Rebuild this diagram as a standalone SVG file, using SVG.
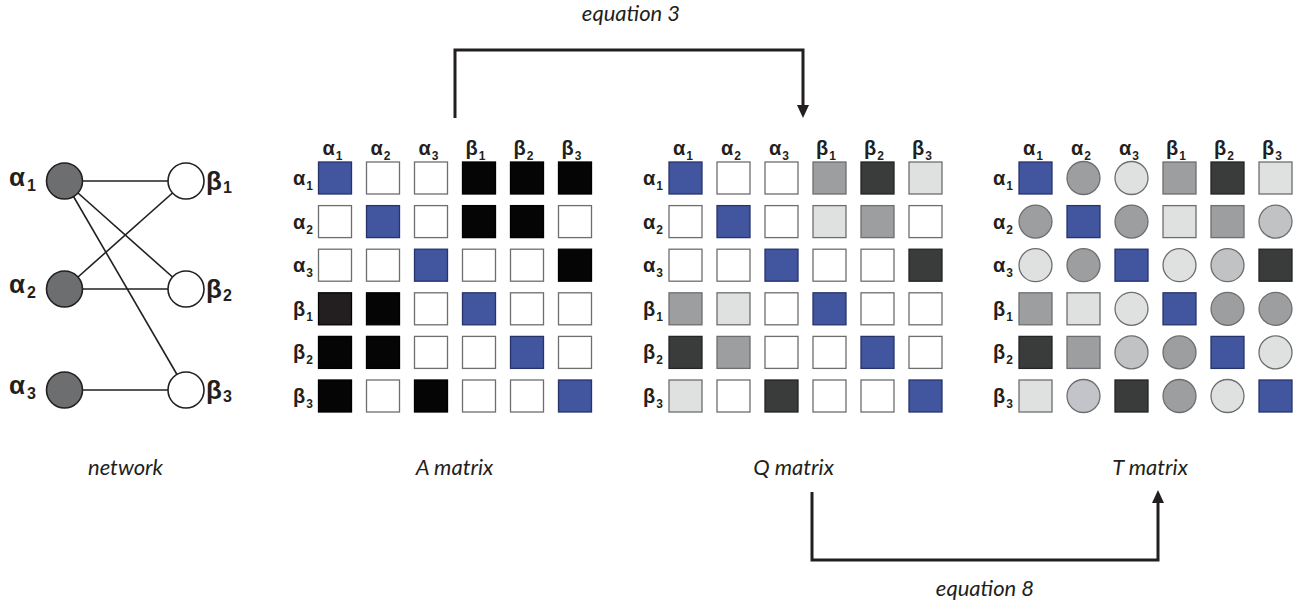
<svg xmlns="http://www.w3.org/2000/svg" width="1300" height="606" viewBox="0 0 1300 606">
<style>
.lbl{font-family:"Liberation Sans",Arial,sans-serif;font-weight:bold;font-size:20px;fill:#231f20}
.nl{font-family:"Liberation Sans",Arial,sans-serif;font-weight:bold;font-size:26px;fill:#231f20}
.sub{font-size:12px}
.nsub{font-size:16px}
.cap{font-family:Lato,"Liberation Sans",sans-serif;font-style:italic;font-size:22px;fill:#231f20}
.w{fill:#ffffff;stroke:#6d6e70;stroke-width:1.3}
.b{fill:#42559f;stroke:#27346b;stroke-width:1.3}
.k{fill:#050505;stroke:#000000;stroke-width:1.3}
.k2{fill:#231f20;stroke:#000000;stroke-width:1.3}
.d{fill:#3a3c3c;stroke:#232424;stroke-width:1.3}
.m{fill:#9d9e9f;stroke:#6d6e70;stroke-width:1.3}
.l{fill:#dfe0e0;stroke:#6d6e70;stroke-width:1.3}
.s{fill:#c1c2c4;stroke:#6d6e70;stroke-width:1.3}
.s2{fill:#c3c4c9;stroke:#6d6e70;stroke-width:1.3}
.edge{stroke:#231f20;stroke-width:1.6;fill:none}
.conn{stroke:#231f20;stroke-width:3;fill:none}
.na{fill:#6d6e70;stroke:#231f20;stroke-width:1.6}
.nb{fill:#ffffff;stroke:#231f20;stroke-width:1.6}
</style>
<defs>
<marker id="ah" viewBox="0 -6 13 12" markerWidth="13" markerHeight="12" refX="0" refY="0" markerUnits="userSpaceOnUse" orient="auto">
<path d="M0,-6 L13,0 L0,6 z" fill="#231f20"/>
</marker>
</defs>

<!-- network edges -->
<g id="network-edges">
<line class="edge" x1="64.5" y1="181" x2="186" y2="181"/>
<line class="edge" x1="64.5" y1="181" x2="186" y2="289"/>
<line class="edge" x1="64.5" y1="181" x2="186" y2="390"/>
<line class="edge" x1="64.5" y1="289" x2="186" y2="181"/>
<line class="edge" x1="64.5" y1="289" x2="186" y2="289"/>
<line class="edge" x1="64.5" y1="390" x2="186" y2="390"/>
</g>
<g id="node-a1"><circle class="na" cx="64.5" cy="181" r="18"/><text class="nl" x="9" y="186">α<tspan class="nsub" dx="2" dy="5">1</tspan></text></g>
<g id="node-a2"><circle class="na" cx="64.5" cy="289" r="18"/><text class="nl" x="9" y="293">α<tspan class="nsub" dx="2" dy="5">2</tspan></text></g>
<g id="node-a3"><circle class="na" cx="64.5" cy="390" r="18"/><text class="nl" x="9" y="394">α<tspan class="nsub" dx="2" dy="5">3</tspan></text></g>
<g id="node-b1"><circle class="nb" cx="186" cy="181" r="18"/><text class="nl" x="206" y="190">β<tspan class="nsub" dx="1" dy="3">1</tspan></text></g>
<g id="node-b2"><circle class="nb" cx="186" cy="289" r="18"/><text class="nl" x="206" y="298">β<tspan class="nsub" dx="1" dy="3">2</tspan></text></g>
<g id="node-b3"><circle class="nb" cx="186" cy="390" r="18"/><text class="nl" x="206" y="399">β<tspan class="nsub" dx="1" dy="3">3</tspan></text></g>
<text class="cap" x="125.5" y="475" text-anchor="middle">network</text>

<!-- A matrix -->
<g id="A-matrix">
<text class="lbl" x="322.5" y="155">α<tspan class="sub" dx="1" dy="5">1</tspan></text>
<text class="lbl" x="370.5" y="155">α<tspan class="sub" dx="1" dy="5">2</tspan></text>
<text class="lbl" x="418.5" y="155">α<tspan class="sub" dx="1" dy="5">3</tspan></text>
<text class="lbl" x="465.5" y="155">β<tspan class="sub" dx="1" dy="5">1</tspan></text>
<text class="lbl" x="513.5" y="155">β<tspan class="sub" dx="1" dy="5">2</tspan></text>
<text class="lbl" x="561.5" y="155">β<tspan class="sub" dx="1" dy="5">3</tspan></text>
<text class="lbl" x="313" y="185" text-anchor="end">α<tspan class="sub" dx="1" dy="5">1</tspan></text>
<text class="lbl" x="313" y="228.6" text-anchor="end">α<tspan class="sub" dx="1" dy="5">2</tspan></text>
<text class="lbl" x="313" y="272.2" text-anchor="end">α<tspan class="sub" dx="1" dy="5">3</tspan></text>
<text class="lbl" x="313" y="315.8" text-anchor="end">β<tspan class="sub" dx="1" dy="5">1</tspan></text>
<text class="lbl" x="313" y="359.4" text-anchor="end">β<tspan class="sub" dx="1" dy="5">2</tspan></text>
<text class="lbl" x="313" y="403" text-anchor="end">β<tspan class="sub" dx="1" dy="5">3</tspan></text>
<rect class="b" x="318.5" y="162" width="33" height="32"/><rect class="w" x="366.5" y="162" width="33" height="32"/><rect class="w" x="414.5" y="162" width="33" height="32"/><rect class="k" x="462.5" y="162" width="33" height="32"/><rect class="k" x="510.5" y="162" width="33" height="32"/><rect class="k" x="558.5" y="162" width="33" height="32"/>
<rect class="w" x="318.5" y="205.6" width="33" height="32"/><rect class="b" x="366.5" y="205.6" width="33" height="32"/><rect class="w" x="414.5" y="205.6" width="33" height="32"/><rect class="k" x="462.5" y="205.6" width="33" height="32"/><rect class="k" x="510.5" y="205.6" width="33" height="32"/><rect class="w" x="558.5" y="205.6" width="33" height="32"/>
<rect class="w" x="318.5" y="249.2" width="33" height="32"/><rect class="w" x="366.5" y="249.2" width="33" height="32"/><rect class="b" x="414.5" y="249.2" width="33" height="32"/><rect class="w" x="462.5" y="249.2" width="33" height="32"/><rect class="w" x="510.5" y="249.2" width="33" height="32"/><rect class="k" x="558.5" y="249.2" width="33" height="32"/>
<rect class="k2" x="318.5" y="292.8" width="33" height="32"/><rect class="k" x="366.5" y="292.8" width="33" height="32"/><rect class="w" x="414.5" y="292.8" width="33" height="32"/><rect class="b" x="462.5" y="292.8" width="33" height="32"/><rect class="w" x="510.5" y="292.8" width="33" height="32"/><rect class="w" x="558.5" y="292.8" width="33" height="32"/>
<rect class="k" x="318.5" y="336.4" width="33" height="32"/><rect class="k" x="366.5" y="336.4" width="33" height="32"/><rect class="w" x="414.5" y="336.4" width="33" height="32"/><rect class="w" x="462.5" y="336.4" width="33" height="32"/><rect class="b" x="510.5" y="336.4" width="33" height="32"/><rect class="w" x="558.5" y="336.4" width="33" height="32"/>
<rect class="k" x="318.5" y="380" width="33" height="32"/><rect class="w" x="366.5" y="380" width="33" height="32"/><rect class="k" x="414.5" y="380" width="33" height="32"/><rect class="w" x="462.5" y="380" width="33" height="32"/><rect class="w" x="510.5" y="380" width="33" height="32"/><rect class="b" x="558.5" y="380" width="33" height="32"/>
<text class="cap" x="454.5" y="475" text-anchor="middle">A matrix</text>
</g>

<!-- Q matrix -->
<g id="Q-matrix">
<text class="lbl" x="673" y="155">α<tspan class="sub" dx="1" dy="5">1</tspan></text>
<text class="lbl" x="721" y="155">α<tspan class="sub" dx="1" dy="5">2</tspan></text>
<text class="lbl" x="769" y="155">α<tspan class="sub" dx="1" dy="5">3</tspan></text>
<text class="lbl" x="816" y="155">β<tspan class="sub" dx="1" dy="5">1</tspan></text>
<text class="lbl" x="864" y="155">β<tspan class="sub" dx="1" dy="5">2</tspan></text>
<text class="lbl" x="912" y="155">β<tspan class="sub" dx="1" dy="5">3</tspan></text>
<text class="lbl" x="663" y="185" text-anchor="end">α<tspan class="sub" dx="1" dy="5">1</tspan></text>
<text class="lbl" x="663" y="228.6" text-anchor="end">α<tspan class="sub" dx="1" dy="5">2</tspan></text>
<text class="lbl" x="663" y="272.2" text-anchor="end">α<tspan class="sub" dx="1" dy="5">3</tspan></text>
<text class="lbl" x="663" y="315.8" text-anchor="end">β<tspan class="sub" dx="1" dy="5">1</tspan></text>
<text class="lbl" x="663" y="359.4" text-anchor="end">β<tspan class="sub" dx="1" dy="5">2</tspan></text>
<text class="lbl" x="663" y="403" text-anchor="end">β<tspan class="sub" dx="1" dy="5">3</tspan></text>
<rect class="b" x="669" y="162" width="33" height="32"/><rect class="w" x="717" y="162" width="33" height="32"/><rect class="w" x="765" y="162" width="33" height="32"/><rect class="m" x="813" y="162" width="33" height="32"/><rect class="d" x="861" y="162" width="33" height="32"/><rect class="l" x="909" y="162" width="33" height="32"/>
<rect class="w" x="669" y="205.6" width="33" height="32"/><rect class="b" x="717" y="205.6" width="33" height="32"/><rect class="w" x="765" y="205.6" width="33" height="32"/><rect class="l" x="813" y="205.6" width="33" height="32"/><rect class="m" x="861" y="205.6" width="33" height="32"/><rect class="w" x="909" y="205.6" width="33" height="32"/>
<rect class="w" x="669" y="249.2" width="33" height="32"/><rect class="w" x="717" y="249.2" width="33" height="32"/><rect class="b" x="765" y="249.2" width="33" height="32"/><rect class="w" x="813" y="249.2" width="33" height="32"/><rect class="w" x="861" y="249.2" width="33" height="32"/><rect class="d" x="909" y="249.2" width="33" height="32"/>
<rect class="m" x="669" y="292.8" width="33" height="32"/><rect class="l" x="717" y="292.8" width="33" height="32"/><rect class="w" x="765" y="292.8" width="33" height="32"/><rect class="b" x="813" y="292.8" width="33" height="32"/><rect class="w" x="861" y="292.8" width="33" height="32"/><rect class="w" x="909" y="292.8" width="33" height="32"/>
<rect class="d" x="669" y="336.4" width="33" height="32"/><rect class="m" x="717" y="336.4" width="33" height="32"/><rect class="w" x="765" y="336.4" width="33" height="32"/><rect class="w" x="813" y="336.4" width="33" height="32"/><rect class="b" x="861" y="336.4" width="33" height="32"/><rect class="w" x="909" y="336.4" width="33" height="32"/>
<rect class="l" x="669" y="380" width="33" height="32"/><rect class="w" x="717" y="380" width="33" height="32"/><rect class="d" x="765" y="380" width="33" height="32"/><rect class="w" x="813" y="380" width="33" height="32"/><rect class="w" x="861" y="380" width="33" height="32"/><rect class="b" x="909" y="380" width="33" height="32"/>
<text class="cap" x="793.5" y="475" text-anchor="middle">Q matrix</text>
</g>

<!-- T matrix -->
<g id="T-matrix">
<text class="lbl" x="1023" y="155">α<tspan class="sub" dx="1" dy="5">1</tspan></text>
<text class="lbl" x="1071" y="155">α<tspan class="sub" dx="1" dy="5">2</tspan></text>
<text class="lbl" x="1119" y="155">α<tspan class="sub" dx="1" dy="5">3</tspan></text>
<text class="lbl" x="1166" y="155">β<tspan class="sub" dx="1" dy="5">1</tspan></text>
<text class="lbl" x="1214" y="155">β<tspan class="sub" dx="1" dy="5">2</tspan></text>
<text class="lbl" x="1262" y="155">β<tspan class="sub" dx="1" dy="5">3</tspan></text>
<text class="lbl" x="1013" y="185" text-anchor="end">α<tspan class="sub" dx="1" dy="5">1</tspan></text>
<text class="lbl" x="1013" y="228.6" text-anchor="end">α<tspan class="sub" dx="1" dy="5">2</tspan></text>
<text class="lbl" x="1013" y="272.2" text-anchor="end">α<tspan class="sub" dx="1" dy="5">3</tspan></text>
<text class="lbl" x="1013" y="315.8" text-anchor="end">β<tspan class="sub" dx="1" dy="5">1</tspan></text>
<text class="lbl" x="1013" y="359.4" text-anchor="end">β<tspan class="sub" dx="1" dy="5">2</tspan></text>
<text class="lbl" x="1013" y="403" text-anchor="end">β<tspan class="sub" dx="1" dy="5">3</tspan></text>
<!-- row a1 -->
<rect class="b" x="1019" y="162" width="33" height="32"/><circle class="m" cx="1083.5" cy="178" r="16.5"/><circle class="l" cx="1131.5" cy="178" r="16.5"/><rect class="m" x="1163" y="162" width="33" height="32"/><rect class="d" x="1211" y="162" width="33" height="32"/><rect class="l" x="1259" y="162" width="33" height="32"/>
<!-- row a2 -->
<circle class="m" cx="1035.5" cy="221.6" r="16.5"/><rect class="b" x="1067" y="205.6" width="33" height="32"/><circle class="m" cx="1131.5" cy="221.6" r="16.5"/><rect class="l" x="1163" y="205.6" width="33" height="32"/><rect class="m" x="1211" y="205.6" width="33" height="32"/><circle class="s" cx="1275.5" cy="221.6" r="16.5"/>
<!-- row a3 -->
<circle class="l" cx="1035.5" cy="265.2" r="16.5"/><circle class="m" cx="1083.5" cy="265.2" r="16.5"/><rect class="b" x="1115" y="249.2" width="33" height="32"/><circle class="l" cx="1179.5" cy="265.2" r="16.5"/><circle class="s" cx="1227.5" cy="265.2" r="16.5"/><rect class="d" x="1259" y="249.2" width="33" height="32"/>
<!-- row b1 -->
<rect class="m" x="1019" y="292.8" width="33" height="32"/><rect class="l" x="1067" y="292.8" width="33" height="32"/><circle class="l" cx="1131.5" cy="308.8" r="16.5"/><rect class="b" x="1163" y="292.8" width="33" height="32"/><circle class="m" cx="1227.5" cy="308.8" r="16.5"/><circle class="m" cx="1275.5" cy="308.8" r="16.5"/>
<!-- row b2 -->
<rect class="d" x="1019" y="336.4" width="33" height="32"/><rect class="m" x="1067" y="336.4" width="33" height="32"/><circle class="s" cx="1131.5" cy="352.4" r="16.5"/><circle class="m" cx="1179.5" cy="352.4" r="16.5"/><rect class="b" x="1211" y="336.4" width="33" height="32"/><circle class="l" cx="1275.5" cy="352.4" r="16.5"/>
<!-- row b3 -->
<rect class="l" x="1019" y="380" width="33" height="32"/><circle class="s2" cx="1083.5" cy="396" r="16.5"/><rect class="d" x="1115" y="380" width="33" height="32"/><circle class="m" cx="1179.5" cy="396" r="16.5"/><circle class="l" cx="1227.5" cy="396" r="16.5"/><rect class="b" x="1259" y="380" width="33" height="32"/>
<text class="cap" x="1150" y="475" text-anchor="middle">T matrix</text>
</g>

<!-- connectors -->
<g id="connectors">
<path class="conn" d="M455,118 V50 H803 V105" marker-end="url(#ah)"/>
<path class="conn" d="M812,492 V560 H1158 V503" marker-end="url(#ah)"/>
<text class="cap" x="631" y="21" text-anchor="middle">equation 3</text>
<text class="cap" x="985" y="596" text-anchor="middle">equation 8</text>
</g>
</svg>
